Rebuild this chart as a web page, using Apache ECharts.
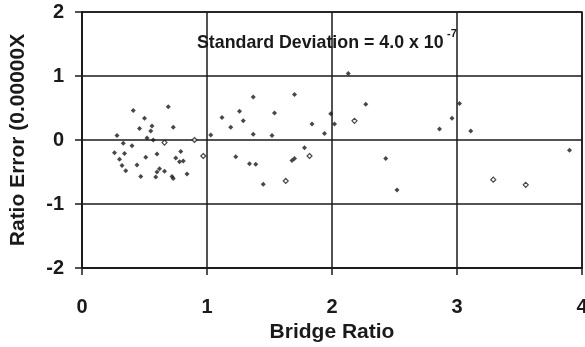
<!DOCTYPE html>
<html>
<head>
<meta charset="utf-8">
<script src="https://cdn.jsdelivr.net/npm/echarts@6/dist/echarts.min.js"></script>
<style>
  html, body { margin: 0; padding: 0; background: #fff; }
  #chart { width: 585px; height: 347px; }
</style>
</head>
<body>
<div id="chart"></div>
<script>
// bridge ratio vs ratio error
const filledX = [0.41, 0.69, 0.50, 0.56, 0.46, 0.55, 0.73, 0.28, 0.52, 0.57, 0.33, 0.40, 0.26, 0.34, 0.60, 0.79, 0.30, 0.51, 0.75, 0.78, 0.81, 0.32, 0.44, 0.35, 0.62, 0.60, 0.66, 0.84, 0.47, 0.59, 0.72, 0.73,
  1.03, 1.12, 1.19, 1.26, 1.29, 1.37, 1.37, 1.54, 1.52, 1.70, 1.84, 1.99, 1.94, 2.02, 1.78, 1.23, 1.34, 1.39, 1.68, 1.70, 1.45,
  2.13, 2.27, 2.86, 2.96, 3.02, 2.43, 2.52, 3.11, 3.90]
const filledY = [0.46, 0.52, 0.34, 0.22, 0.18, 0.14, 0.20, 0.07, 0.03, 0.0, -0.05, -0.09, -0.20, -0.21, -0.22, -0.18, -0.30, -0.27, -0.28, -0.34, -0.33, -0.40, -0.39, -0.48, -0.45, -0.50, -0.49, -0.53, -0.57, -0.58, -0.57, -0.60,
  0.08, 0.35, 0.20, 0.45, 0.30, 0.67, 0.09, 0.42, 0.07, 0.71, 0.25, 0.41, 0.10, 0.25, -0.12, -0.26, -0.37, -0.38, -0.32, -0.29, -0.69,
  1.04, 0.56, 0.17, 0.34, 0.57, -0.29, -0.78, 0.14, -0.16]
const hollowX = [0.66, 0.90, 0.97, 1.82, 1.63, 2.18, 3.29, 3.55]
const hollowY = [-0.04, 0.0, -0.25, -0.25, -0.64, 0.30, -0.62, -0.70]

const xTicks = [0, 1, 2, 3, 4]
const yTicks = [-2, -1, 0, 1, 2]

const FONT = 'Liberation Sans, Arial, sans-serif'
const INK = '#1a1a1a'

const chart = echarts.init(document.getElementById('chart'), null, { renderer: 'canvas' })

const axisCommon = {
  axisLine: { show: true, onZero: false, lineStyle: { color: INK, width: 1.5 } },
  axisTick: { show: true, inside: false, length: 7, lineStyle: { color: INK, width: 1.5 } },
  splitLine: { show: true, lineStyle: { color: INK, width: 1.5 } },
  nameLocation: 'middle',
  nameTextStyle: { color: INK, fontFamily: FONT, fontWeight: 'bold', fontSize: 21 },
}
const labelStyle = { color: INK, fontFamily: FONT, fontWeight: 'bold', fontSize: 20 }

chart.setOption({
  animation: false,
  backgroundColor: '#fff',
  grid: {
    left: 82, right: 3, top: 12, bottom: 79,
    containLabel: false, outerBoundsMode: 'none',
    show: true, borderColor: INK, borderWidth: 1.5,
  },
  xAxis: {
    ...axisCommon,
    type: 'value',
    min: xTicks[0],
    max: xTicks[xTicks.length - 1],
    interval: 1,
    name: 'Bridge Ratio',
    nameGap: 48,
    axisLabel: { ...labelStyle, margin: 29 },
  },
  yAxis: {
    ...axisCommon,
    type: 'value',
    min: yTicks[0],
    max: yTicks[yTicks.length - 1],
    interval: 1,
    name: 'Ratio Error (0.00000X',
    nameGap: 53,
    axisLabel: { ...labelStyle, margin: 18 },
  },
  graphic: [
    {
      type: 'text', left: 197, top: 34,
      style: { text: 'Standard Deviation = 4.0 x 10', fill: INK, font: 'bold 17.8px ' + FONT },
    },
    {
      type: 'text', left: 447, top: 28,
      style: { text: '-7', fill: INK, font: 'bold 11px ' + FONT },
    },
  ],
  series: [
    {
      type: 'scatter',
      symbol: 'diamond',
      symbolSize: 5,
      itemStyle: { color: INK },
      data: filledX.map((x, i) => [x, filledY[i]]),
    },
    {
      type: 'scatter',
      symbol: 'diamond',
      symbolSize: 5,
      itemStyle: { color: '#fff', borderColor: INK, borderWidth: 1.2 },
      data: hollowX.map((x, i) => [x, hollowY[i]]),
    },
  ],
})
</script>
</body>
</html>
